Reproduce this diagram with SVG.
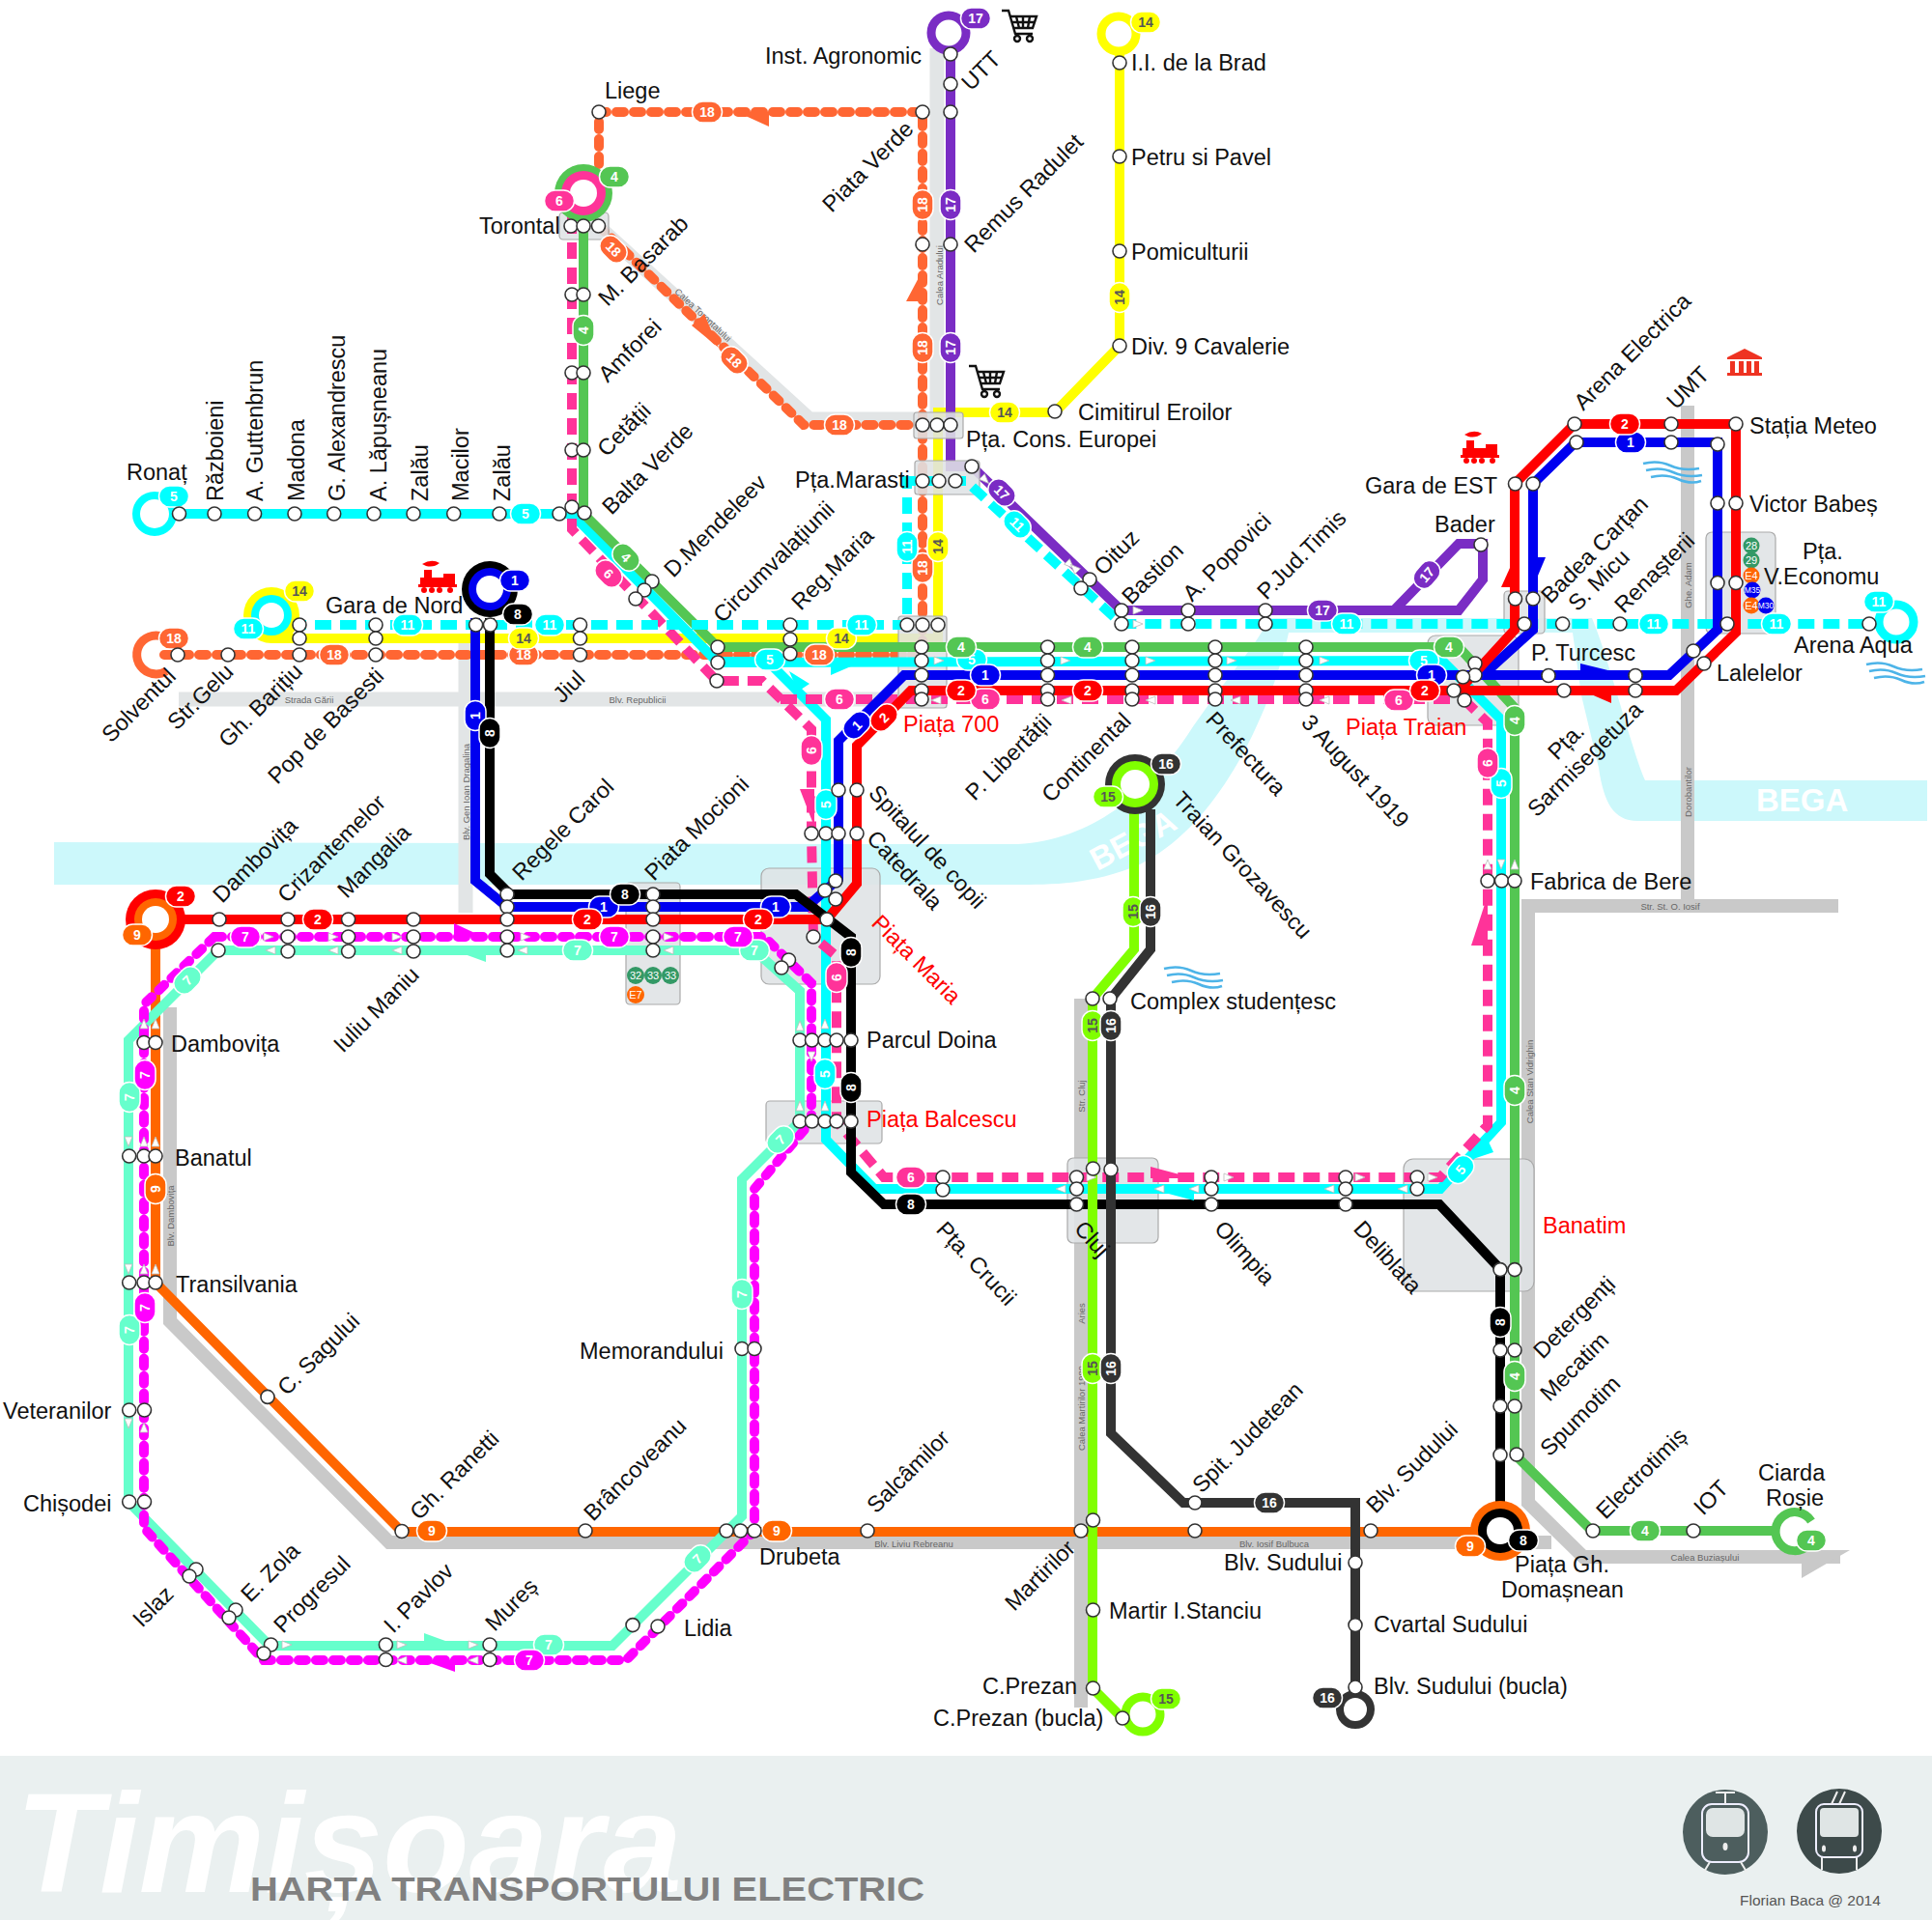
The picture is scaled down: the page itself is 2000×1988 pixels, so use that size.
<svg xmlns="http://www.w3.org/2000/svg" xmlns:xlink="http://www.w3.org/1999/xlink" width="2000" height="1988" viewBox="0 0 2000 1988">
<style>
text{font-family:"Liberation Sans",Arial,sans-serif}
.l{font-size:23.5px;fill:#111}
.r{font-size:23.5px;fill:#f00}
.rd{font-size:9.5px;fill:#666;text-anchor:middle;dominant-baseline:central}
.road{fill:none;stroke:#c9c9c9;stroke-width:14}
.roadl{fill:none;stroke:#e2e5e6;stroke-width:15}
.ln{fill:none;stroke-width:10;stroke-linejoin:miter}
.dash{stroke-dasharray:17 9}
.bead{stroke-dasharray:8 10;stroke-linecap:round}
.s{r:7px;fill:#fff;stroke:#333;stroke-width:1.6}
.b{x:-15.5px;y:-11px;width:31px;height:22px;rx:11px;stroke:#fff;stroke-width:1.5}
.bt{font-size:14px;font-weight:bold;fill:#fff;text-anchor:middle;dominant-baseline:central}
.dk{fill:#555}
.box{fill:#dfe3e5;fill-opacity:.88;stroke:#aaa;stroke-width:1.2}
.c1{fill:#0000f0}.c2{fill:#f00}.c4{fill:#54c653}.c5{fill:#0ff}.c6{fill:#f39}.c7{fill:#f0f}.c7m{fill:#6fc}.c8{fill:#000}.c9{fill:#f60}.c11{fill:#0ff}.c14{fill:#ff0}.c15{fill:#80ff00}.c16{fill:#333}.c17{fill:#7a2cc4}.c18{fill:#f63}
.s1{stroke:#0000f0}.s2{stroke:#f00}.s4{stroke:#54c653}.s5{stroke:#0ff}.s6{stroke:#f39}.s7{stroke:#f0f}.s7m{stroke:#6fc}.s8{stroke:#000}.s9{stroke:#f60}.s11{stroke:#0ff}.s14{stroke:#ff0}.s15{stroke:#80ff00}.s16{stroke:#333}.s17{stroke:#7a2cc4}.s18{stroke:#f63}
.tr{fill:#fff;stroke:#bbb;stroke-width:.8}
.stb{font-size:11px;fill:#fff;text-anchor:middle;dominant-baseline:central}
.stm{font-size:8.5px}
.wv{fill:none;stroke:#4db4e8;stroke-width:2.5}
</style>
<defs>
<path id="t" class="tr" d="M-5-4L5 0L-5 4Z"/>
<g id="train" fill="#f00"><rect x="6" y="10" width="8" height="8"/><path d="M4 4q10-6 18-1q-6 5-14 3z"/><rect x="2" y="18" width="26" height="9"/><rect x="26" y="14" width="12" height="13"/><rect x="0" y="25" width="40" height="3"/><circle cx="6" cy="31" r="3"/><circle cx="14" cy="31" r="3"/><circle cx="22" cy="31" r="3"/><circle cx="33" cy="31" r="3"/></g>
<g id="cart" fill="none" stroke="#111" stroke-width="2.4"><path d="M0 1H7L14 25H32"/><path d="M9 7H36L32 19H12" /><path d="M15 7L18 19M22 7V19M29 7L27 19M10 13H34"/><circle cx="16" cy="30" r="3"/><circle cx="29" cy="30" r="3"/></g>
<g id="mus" fill="#e32"><path d="M0 9L18 0L36 9V11H0Z"/><rect x="3" y="13" width="5" height="12"/><rect x="12" y="13" width="5" height="12"/><rect x="20" y="13" width="5" height="12"/><rect x="28" y="13" width="5" height="12"/><rect x="0" y="25" width="36" height="3"/></g>
<g id="wv" class="wv"><path d="M0 2q15-4 28 2t30 3"/><path d="M3 9q15-4 28 2t30 3"/><path d="M8 16q15-4 28 2t24 2"/></g>
</defs>
<rect width="2000" height="1988" fill="#fff"/>
<g id="river">
<path fill="#ccf8fb" d="M56 872L900 874L1054 874C1130 870 1190 820 1230 760C1270 700 1300 670 1314 640L1648 640C1665 680 1690 780 1703 808L1995 808L1995 850L1695 850C1670 850 1660 830 1655 795L1637 720L1628 655L1334 655C1320 720 1270 850 1180 895C1130 916 1090 916 1050 916L56 916Z"/>
<text x="1818" y="840" font-size="33" font-weight="bold" fill="#fff">BEGA</text>
<text transform="translate(1136 902) rotate(-28)" font-size="33" font-weight="bold" fill="#fff">BEGA</text>
</g>
<g id="roads">
<path class="roadl" d="M970 50V434H838L619 234"/>
<path class="roadl" d="M185 724H960"/>
<path class="roadl" d="M482 660V945"/>
<path class="road" d="M176 1043V1368L403 1597H1606"/>
<path class="road" d="M1903 938H1582V1556L1639 1612H1905"/>
<path d="M1915 1605L1865 1634V1618H1830V1605Z" fill="#c9c9c9"/>
<path class="road" d="M1747 420V938"/>
<path class="road" d="M1119 1034V1768"/>
<text class="rd" transform="translate(972 285) rotate(-90)">Calea Aradului</text>
<text class="rd" transform="translate(728 326) rotate(43)">Calea Torontalului</text>
<text class="rd" x="320" y="724">Strada Gării</text>
<text class="rd" x="660" y="724">Blv. Republicii</text>
<text class="rd" transform="translate(482 820) rotate(-90)">Blv. Gen Ioan Dragalina</text>
<text class="rd" transform="translate(1747 606) rotate(-90)">Ghe. Adam</text>
<text class="rd" transform="translate(1747 820) rotate(-90)">Dorobantilor</text>
<text class="rd" x="1729" y="938">Str. St. O. Iosif</text>
<text class="rd" transform="translate(1583 1120) rotate(-90)">Calea Stan Vidrighin</text>
<text class="rd" transform="translate(1119 1135) rotate(-90)">Str. Cluj</text>
<text class="rd" transform="translate(1119 1360) rotate(-90)">Aries</text>
<text class="rd" transform="translate(1119 1458) rotate(-90)">Calea Martirilor 1989</text>
<text class="rd" x="946" y="1598">Blv. Liviu Rebreanu</text>
<text class="rd" x="1319" y="1598">Blv. Iosif Bulbuca</text>
<text class="rd" x="1765" y="1612">Calea Buziașului</text>
<text class="rd" transform="translate(176 1259) rotate(-90)">Blv. Dambovița</text>
</g>
<g id="connectors-back">
<path class="ln s14" d="M281 661H971V427H1092L1159 358V45"/>
<path class="ln s18 bead" d="M170 678H955V116H620V180"/>
<path class="ln s18 bead" d="M620 234L832 440H955"/>
<path class="ln s17" d="M984 40V483H1006L1161 632H1510L1535 600V563H1510L1443 632"/>
</g>
<g id="boxes">
<rect class="box" x="579" y="220" width="51" height="28" rx="4"/>
<rect class="box" x="946" y="427" width="51" height="27" rx="3"/>
<rect class="box" x="947" y="477" width="67" height="35" rx="3"/>
<rect class="box" x="930" y="638" width="50" height="95" rx="3"/>
<rect class="box" x="1478" y="658" width="94" height="93" rx="8"/>
<rect class="box" x="1557" y="612" width="42" height="44" rx="4"/>
<rect class="box" x="1766" y="551" width="72" height="105" rx="6"/>
<rect class="box" x="648" y="914" width="56" height="126" rx="4"/>
<rect class="box" x="788" y="899" width="123" height="120" rx="8"/>
<rect class="box" x="793" y="1140" width="120" height="44" rx="4"/>
<rect class="box" x="1105" y="1199" width="94" height="88" rx="6"/>
<rect class="box" x="1453" y="1200" width="135" height="137" rx="10"/>
</g>
<g id="connectors">
<path class="ln s5" d="M178 532H592L743 686L1493 684L1554 745V1162L1491 1231H905L855 1180V745L795 685H743"/>
<path class="ln s4" d="M604 225V532L743 670H1510L1568 733V1506L1648 1585H1840"/>
<path class="ln s6 dash" d="M592 225V548L742 705H789L840 755V863L842 970L866 990V1161L915 1219H1491L1540 1165V748L1516 725"/>
<path class="ln s6 dash" d="M808 724H1516"/>
<path class="ln s11 dash" d="M300 647H939V498H1000L1161 646H1945"/>
<path class="ln s1" d="M492 640V912L525 939H835L868 910V767L936 699H1728L1778 652V458H1631L1587 501V652L1535 699"/>
<path class="ln s2" d="M175 952H856L887 915V772L943 715H1735L1797 655V439H1630L1568 501V652L1510 715"/>
<path class="ln s8" d="M507 640V905L528 926H824L881 970V1214L915 1247H1490L1553 1314V1570"/>
<path class="ln s9" d="M161 965V1328L416 1586H1530"/>
<path class="ln s7m" d="M781 984L828 1026V1161L768 1221V1570L634 1704H279L133 1555V1077L226 984Z"/>
<path class="ln s7 bead" d="M222 970H791L840 1018V1161L781 1231V1585L648 1719H273L149 1582V1040Z"/>
<path class="ln s15" d="M1174 838V983L1131 1034V1748L1162 1779"/>
<path class="ln s16" d="M1191 838V983L1150 1034V1484L1225 1556H1403V1755"/>
<g id="big-arrows">
<path class="c18" d="M763 116H796V131Z"/><path class="c18" d="M955 280L938 312H955Z"/><path class="c18" d="M744 360L716 337L729 325Z"/>
<path class="c5" d="M860 683H897L860 699Z"/><path class="c5" d="M817 695L838 708L826 716Z"/>
<path class="c6" d="M828 817H843V856Z"/>
<path class="c7" d="M470 956L500 970H470Z"/><path class="c7m" d="M470 984H503V996Z"/><path class="c7m" d="M439 1691L472 1703H439Z"/><path class="c7" d="M437 1719H471V1731Z"/>
<path class="c6" d="M1191 1208L1236 1220H1191Z"/><path class="c5" d="M1191 1231H1236V1243Z"/>
<path class="c5" d="M1525 1200L1546 1193L1540 1180Z"/>
<path class="c6" d="M1540 927L1523 979H1540Z"/>
<path class="c2" d="M1568 577L1554 608H1568Z"/><path class="c1" d="M1587 577H1600L1587 608Z"/>
<path class="c1" d="M1636 687L1689 700H1636Z"/><path class="c2" d="M1638 715H1668V728Z"/>
</g>
<g id="dir-marks">
<use href="#t" x="972" y="684"/><use href="#t" x="1103" y="684"/><use href="#t" x="1191" y="684"/><use href="#t" x="1275" y="684"/><use href="#t" x="1371" y="684"/>
<use href="#t" transform="translate(969 725) rotate(180)"/><use href="#t" transform="translate(1104 725) rotate(180)"/><use href="#t" transform="translate(1191 725) rotate(180)"/><use href="#t" transform="translate(1279 725) rotate(180)"/><use href="#t" transform="translate(1371 725) rotate(180)"/>
<use href="#t" transform="translate(280 984) rotate(180)"/><use href="#t" transform="translate(345 984) rotate(180)"/><use href="#t" transform="translate(411 984) rotate(180)"/><use href="#t" transform="translate(541 984) rotate(180)"/><use href="#t" transform="translate(692 984) rotate(180)"/>
<use href="#t" x="278" y="970"/><use href="#t" x="345" y="970"/><use href="#t" x="411" y="970"/><use href="#t" x="544" y="970"/><use href="#t" x="692" y="970"/>
<use href="#t" transform="translate(1200 1231) rotate(180)"/><use href="#t" transform="translate(1098 1231) rotate(180)"/><use href="#t" transform="translate(1236 1231) rotate(180)"/><use href="#t" transform="translate(1376 1231) rotate(180)"/><use href="#t" transform="translate(1452 1231) rotate(180)"/>
<use href="#t" x="1130" y="1219"/><use href="#t" x="1272" y="1219"/><use href="#t" x="1408" y="1219"/><use href="#t" x="1483" y="1219"/>
<use href="#t" transform="translate(149 1060) rotate(-90)"/><use href="#t" transform="translate(161 1060) rotate(-90)"/><use href="#t" transform="translate(149 1182) rotate(-90)"/><use href="#t" transform="translate(161 1182) rotate(-90)"/><use href="#t" transform="translate(149 1314) rotate(-90)"/><use href="#t" transform="translate(161 1314) rotate(-90)"/>
<use href="#t" transform="translate(133 1182) rotate(90)"/><use href="#t" transform="translate(133 1314) rotate(90)"/><use href="#t" transform="translate(133 1474) rotate(90)"/><use href="#t" transform="translate(149 1478) rotate(-90)"/>
<use href="#t" x="297" y="1703"/><use href="#t" x="416" y="1703"/><use href="#t" x="490" y="1703"/><use href="#t" transform="translate(416 1719) rotate(180)"/><use href="#t" transform="translate(490 1719) rotate(180)"/>
<use href="#t" transform="translate(828 1062) rotate(-90)"/><use href="#t" transform="translate(828 1145) rotate(-90)"/><use href="#t" transform="translate(840 1094) rotate(90)"/><use href="#t" transform="translate(854 1060) rotate(-90)"/><use href="#t" transform="translate(854 1145) rotate(-90)"/>
<use href="#t" transform="translate(1540 895) rotate(-90)"/><use href="#t" transform="translate(1554 895) rotate(90)"/><use href="#t" transform="translate(1568 895) rotate(-90)"/>
<use href="#t" x="1178" y="632"/><use href="#t" x="1178" y="646"/><use href="#t" transform="translate(1108 585) rotate(45)"/><use href="#t" transform="translate(1112 588) rotate(225)"/><use href="#t" transform="translate(1020 497) rotate(45)"/>
</g>
<g id="rings">
<circle cx="160" cy="532" r="19" fill="#fff" stroke="#0ff" stroke-width="8"/>
<path d="M172 695A20 20 0 1 1 175 663" fill="none" stroke="#f63" stroke-width="9"/>
<circle cx="281" cy="637" r="29" class="c14"/><circle cx="281" cy="637" r="21" class="c5"/><circle cx="281" cy="637" r="13" fill="#fff"/>
<circle cx="507" cy="610" r="29" class="c8"/><circle cx="507" cy="610" r="22" class="c1"/><circle cx="507" cy="610" r="14" fill="#fff"/>
<circle cx="604" cy="200" r="30" class="c4"/><circle cx="604" cy="200" r="23" class="c6"/><circle cx="604" cy="200" r="14" fill="#fff"/>
<circle cx="982" cy="34" r="18" fill="#fff" stroke="#7a2cc4" stroke-width="9"/>
<circle cx="1158" cy="35" r="18" fill="#fff" stroke="#ff0" stroke-width="9"/>
<circle cx="161" cy="952" r="31" class="c2"/><circle cx="161" cy="952" r="22" class="c9"/><circle cx="161" cy="952" r="14" fill="#fff"/>
<circle cx="1175" cy="812" r="31" class="c16"/><circle cx="1175" cy="812" r="24" class="c15"/><circle cx="1175" cy="812" r="15" fill="#fff"/>
<circle cx="1183" cy="1775" r="18" fill="#fff" stroke="#80ff00" stroke-width="9"/>
<circle cx="1403" cy="1770" r="16" fill="#fff" stroke="#333" stroke-width="8"/>
<circle cx="1553" cy="1585" r="31" class="c9"/><circle cx="1553" cy="1585" r="23" class="c8"/><circle cx="1553" cy="1585" r="14" fill="#fff"/>
<path d="M1875 1575A20 20 0 1 0 1872 1600" fill="#fff" stroke="#54c653" stroke-width="9"/>
<circle cx="1963" cy="644" r="18" fill="#fff" stroke="#0ff" stroke-width="9"/>
</g>
<g id="badges">
<g transform="translate(732 116)"><rect class="b c18"/><text class="bt">18</text></g>
<g transform="translate(955 212) rotate(-90)"><rect class="b c18"/><text class="bt">18</text></g>
<g transform="translate(955 360) rotate(-90)"><rect class="b c18"/><text class="bt">18</text></g>
<g transform="translate(955 588) rotate(-90)"><rect class="b c18"/><text class="bt">18</text></g>
<g transform="translate(635 258) rotate(45)"><rect class="b c18"/><text class="bt">18</text></g>
<g transform="translate(760 373) rotate(45)"><rect class="b c18"/><text class="bt">18</text></g>
<g transform="translate(869 440)"><rect class="b c18"/><text class="bt">18</text></g>
<g transform="translate(346 678)"><rect class="b c18"/><text class="bt">18</text></g>
<g transform="translate(542 678)"><rect class="b c18"/><text class="bt">18</text></g>
<g transform="translate(848 678)"><rect class="b c18"/><text class="bt">18</text></g>
<g transform="translate(180 661)"><rect class="b c18"/><text class="bt">18</text></g>
<g transform="translate(984 212) rotate(-90)"><rect class="b c17"/><text class="bt">17</text></g>
<g transform="translate(984 360) rotate(-90)"><rect class="b c17"/><text class="bt">17</text></g>
<g transform="translate(1037 510) rotate(45)"><rect class="b c17"/><text class="bt">17</text></g>
<g transform="translate(1369 632)"><rect class="b c17"/><text class="bt">17</text></g>
<g transform="translate(1477 595) rotate(-50)"><rect class="b c17"/><text class="bt">17</text></g>
<g transform="translate(1010 19)"><rect class="b c17"/><text class="bt">17</text></g>
<g transform="translate(1159 308) rotate(-90)"><rect class="b c14"/><text class="bt dk">14</text></g>
<g transform="translate(1040 427)"><rect class="b c14"/><text class="bt dk">14</text></g>
<g transform="translate(971 566) rotate(-90)"><rect class="b c14"/><text class="bt dk">14</text></g>
<g transform="translate(542 661)"><rect class="b c14"/><text class="bt dk">14</text></g>
<g transform="translate(871 661)"><rect class="b c14"/><text class="bt dk">14</text></g>
<g transform="translate(310 612)"><rect class="b c14"/><text class="bt dk">14</text></g>
<g transform="translate(1186 23)"><rect class="b c14"/><text class="bt dk">14</text></g>
<g transform="translate(422 647)"><rect class="b c11"/><text class="bt">11</text></g>
<g transform="translate(569 647)"><rect class="b c11"/><text class="bt">11</text></g>
<g transform="translate(892 647)"><rect class="b c11"/><text class="bt">11</text></g>
<g transform="translate(939 566) rotate(-90)"><rect class="b c11"/><text class="bt">11</text></g>
<g transform="translate(1053 543) rotate(45)"><rect class="b c11"/><text class="bt">11</text></g>
<g transform="translate(1394 646)"><rect class="b c11"/><text class="bt">11</text></g>
<g transform="translate(1712 646)"><rect class="b c11"/><text class="bt">11</text></g>
<g transform="translate(1839 646)"><rect class="b c11"/><text class="bt">11</text></g>
<g transform="translate(1945 623)"><rect class="b c11"/><text class="bt">11</text></g>
<g transform="translate(257 651)"><rect class="b c11"/><text class="bt">11</text></g>
<g transform="translate(180 514)"><rect class="b c5"/><text class="bt">5</text></g>
<g transform="translate(544 532)"><rect class="b c5"/><text class="bt">5</text></g>
<g transform="translate(797 683)"><rect class="b c5"/><text class="bt">5</text></g>
<g transform="translate(1006 683)"><rect class="b c5"/><text class="bt">5</text></g>
<g transform="translate(1474 684)"><rect class="b c5"/><text class="bt">5</text></g>
<g transform="translate(1554 811) rotate(-90)"><rect class="b c5"/><text class="bt">5</text></g>
<g transform="translate(855 833) rotate(-90)"><rect class="b c5"/><text class="bt">5</text></g>
<g transform="translate(854 1112) rotate(-90)"><rect class="b c5"/><text class="bt">5</text></g>
<g transform="translate(1512 1211) rotate(-50)"><rect class="b c5"/><text class="bt">5</text></g>
<g transform="translate(604 342) rotate(-90)"><rect class="b c4"/><text class="bt">4</text></g>
<g transform="translate(648 577) rotate(45)"><rect class="b c4"/><text class="bt">4</text></g>
<g transform="translate(995 670)"><rect class="b c4"/><text class="bt">4</text></g>
<g transform="translate(1126 670)"><rect class="b c4"/><text class="bt">4</text></g>
<g transform="translate(1500 670)"><rect class="b c4"/><text class="bt">4</text></g>
<g transform="translate(1568 746) rotate(-90)"><rect class="b c4"/><text class="bt">4</text></g>
<g transform="translate(1568 1129) rotate(-90)"><rect class="b c4"/><text class="bt">4</text></g>
<g transform="translate(1568 1425) rotate(-90)"><rect class="b c4"/><text class="bt">4</text></g>
<g transform="translate(1703 1585)"><rect class="b c4"/><text class="bt">4</text></g>
<g transform="translate(1875 1595)"><rect class="b c4"/><text class="bt">4</text></g>
<g transform="translate(636 183)"><rect class="b c4"/><text class="bt">4</text></g>
<g transform="translate(630 594) rotate(45)"><rect class="b c6"/><text class="bt">6</text></g>
<g transform="translate(840 777) rotate(-90)"><rect class="b c6"/><text class="bt">6</text></g>
<g transform="translate(869 724)"><rect class="b c6"/><text class="bt">6</text></g>
<g transform="translate(1020 724)"><rect class="b c6"/><text class="bt">6</text></g>
<g transform="translate(1448 725)"><rect class="b c6"/><text class="bt">6</text></g>
<g transform="translate(1540 790) rotate(-90)"><rect class="b c6"/><text class="bt">6</text></g>
<g transform="translate(866 1012) rotate(-90)"><rect class="b c6"/><text class="bt">6</text></g>
<g transform="translate(943 1219)"><rect class="b c6"/><text class="bt">6</text></g>
<g transform="translate(579 208)"><rect class="b c6"/><text class="bt">6</text></g>
<g transform="translate(492 741) rotate(-90)"><rect class="b c1"/><text class="bt">1</text></g>
<g transform="translate(625 939)"><rect class="b c1"/><text class="bt">1</text></g>
<g transform="translate(803 939)"><rect class="b c1"/><text class="bt">1</text></g>
<g transform="translate(887 751) rotate(-45)"><rect class="b c1"/><text class="bt">1</text></g>
<g transform="translate(1020 699)"><rect class="b c1"/><text class="bt">1</text></g>
<g transform="translate(1482 699)"><rect class="b c1"/><text class="bt">1</text></g>
<g transform="translate(1688 458)"><rect class="b c1"/><text class="bt">1</text></g>
<g transform="translate(533 601)"><rect class="b c1"/><text class="bt">1</text></g>
<g transform="translate(329 952)"><rect class="b c2"/><text class="bt">2</text></g>
<g transform="translate(608 952)"><rect class="b c2"/><text class="bt">2</text></g>
<g transform="translate(785 952)"><rect class="b c2"/><text class="bt">2</text></g>
<g transform="translate(915 743) rotate(-45)"><rect class="b c2"/><text class="bt">2</text></g>
<g transform="translate(995 715)"><rect class="b c2"/><text class="bt">2</text></g>
<g transform="translate(1126 715)"><rect class="b c2"/><text class="bt">2</text></g>
<g transform="translate(1475 715)"><rect class="b c2"/><text class="bt">2</text></g>
<g transform="translate(1682 439)"><rect class="b c2"/><text class="bt">2</text></g>
<g transform="translate(187 928)"><rect class="b c2"/><text class="bt">2</text></g>
<g transform="translate(507 759) rotate(-90)"><rect class="b c8"/><text class="bt">8</text></g>
<g transform="translate(647 926)"><rect class="b c8"/><text class="bt">8</text></g>
<g transform="translate(881 986) rotate(-90)"><rect class="b c8"/><text class="bt">8</text></g>
<g transform="translate(881 1126) rotate(-90)"><rect class="b c8"/><text class="bt">8</text></g>
<g transform="translate(943 1247)"><rect class="b c8"/><text class="bt">8</text></g>
<g transform="translate(1553 1369) rotate(-90)"><rect class="b c8"/><text class="bt">8</text></g>
<g transform="translate(536 636)"><rect class="b c8"/><text class="bt">8</text></g>
<g transform="translate(1577 1595)"><rect class="b c8"/><text class="bt">8</text></g>
<g transform="translate(161 1231) rotate(-90)"><rect class="b c9"/><text class="bt">9</text></g>
<g transform="translate(447 1585)"><rect class="b c9"/><text class="bt">9</text></g>
<g transform="translate(804 1585)"><rect class="b c9"/><text class="bt">9</text></g>
<g transform="translate(142 968)"><rect class="b c9"/><text class="bt">9</text></g>
<g transform="translate(1522 1601)"><rect class="b c9"/><text class="bt">9</text></g>
<g transform="translate(194 1015) rotate(-45)"><rect class="b c7m"/><text class="bt">7</text></g>
<g transform="translate(598 984)"><rect class="b c7m"/><text class="bt">7</text></g>
<g transform="translate(781 984)"><rect class="b c7m"/><text class="bt">7</text></g>
<g transform="translate(134 1136) rotate(-90)"><rect class="b c7m"/><text class="bt">7</text></g>
<g transform="translate(134 1377) rotate(-90)"><rect class="b c7m"/><text class="bt">7</text></g>
<g transform="translate(768 1340) rotate(-90)"><rect class="b c7m"/><text class="bt">7</text></g>
<g transform="translate(808 1180) rotate(-45)"><rect class="b c7m"/><text class="bt">7</text></g>
<g transform="translate(722 1614) rotate(-45)"><rect class="b c7m"/><text class="bt">7</text></g>
<g transform="translate(568 1703)"><rect class="b c7m"/><text class="bt">7</text></g>
<g transform="translate(254 970)"><rect class="b c7"/><text class="bt">7</text></g>
<g transform="translate(636 970)"><rect class="b c7"/><text class="bt">7</text></g>
<g transform="translate(764 970)"><rect class="b c7"/><text class="bt">7</text></g>
<g transform="translate(150 1113) rotate(-90)"><rect class="b c7"/><text class="bt">7</text></g>
<g transform="translate(150 1354) rotate(-90)"><rect class="b c7"/><text class="bt">7</text></g>
<g transform="translate(548 1719)"><rect class="b c7"/><text class="bt">7</text></g>
<g transform="translate(1173 944) rotate(-90)"><rect class="b c15"/><text class="bt dk">15</text></g>
<g transform="translate(1131 1062) rotate(-90)"><rect class="b c15"/><text class="bt dk">15</text></g>
<g transform="translate(1131 1417) rotate(-90)"><rect class="b c15"/><text class="bt dk">15</text></g>
<g transform="translate(1147 825)"><rect class="b c15"/><text class="bt dk">15</text></g>
<g transform="translate(1207 1759)"><rect class="b c15"/><text class="bt dk">15</text></g>
<g transform="translate(1191 944) rotate(-90)"><rect class="b c16"/><text class="bt">16</text></g>
<g transform="translate(1150 1062) rotate(-90)"><rect class="b c16"/><text class="bt">16</text></g>
<g transform="translate(1150 1417) rotate(-90)"><rect class="b c16"/><text class="bt">16</text></g>
<g transform="translate(1314 1556)"><rect class="b c16"/><text class="bt">16</text></g>
<g transform="translate(1207 791)"><rect class="b c16"/><text class="bt">16</text></g>
<g transform="translate(1374 1758)"><rect class="b c16"/><text class="bt">16</text></g>
</g>
</g>
<g id="stop-badges">
<circle cx="658" cy="1010" r="9" fill="#396"/><text class="stb" x="658" y="1010">32</text>
<circle cx="676" cy="1010" r="9" fill="#396"/><text class="stb" x="676" y="1010">33</text>
<circle cx="694" cy="1010" r="9" fill="#396"/><text class="stb" x="694" y="1010">33</text>
<circle cx="658" cy="1030" r="9" fill="#f60"/><text class="stb" x="658" y="1030">E7</text>
<circle cx="1813" cy="565" r="8.5" fill="#396"/><text class="stb" x="1813" y="565">28</text>
<circle cx="1813" cy="580" r="8.5" fill="#396"/><text class="stb" x="1813" y="580">29</text>
<circle cx="1813" cy="596" r="8.5" fill="#f60"/><text class="stb" x="1813" y="596">E4</text>
<circle cx="1814" cy="611" r="8.5" fill="#0000f0"/><text class="stb stm" x="1814" y="611">M35</text>
<circle cx="1813" cy="627" r="8.5" fill="#f60"/><text class="stb" x="1813" y="627">E4</text>
<circle cx="1828" cy="627" r="8.5" fill="#0000f0"/><text class="stb stm" x="1828" y="627">M30</text>
</g>
<g id="icons">
<use href="#train" x="433" y="580"/><use href="#train" x="1512" y="446"/>
<use href="#cart" x="1037" y="10"/><use href="#cart" x="1003" y="378"/>
<use href="#mus" x="1788" y="361"/>
<use href="#wv" x="1701" y="478"/><use href="#wv" x="1205" y="1001"/><use href="#wv" x="1932" y="686"/>
</g>
<g id="n-ronat"><circle class="s" cx="185.5" cy="532"/><text class="l" x="131" y="497">Ronaț</text></g>
<g id="n-razboieni"><circle class="s" cx="222" cy="532"/><text class="l" transform="translate(231 519) rotate(-90)">Războieni</text></g>
<g id="n-guttenbrun"><circle class="s" cx="263.6" cy="532"/><text class="l" transform="translate(272 519) rotate(-90)">A. Guttenbrun</text></g>
<g id="n-madona"><circle class="s" cx="305" cy="532"/><text class="l" transform="translate(315 519) rotate(-90)">Madona</text></g>
<g id="n-alexandrescu"><circle class="s" cx="345.7" cy="532"/><text class="l" transform="translate(357 519) rotate(-90)">G. Alexandrescu</text></g>
<g id="n-lapusneanu"><circle class="s" cx="387" cy="532"/><text class="l" transform="translate(400 519) rotate(-90)">A. Lăpușneanu</text></g>
<g id="n-zalau1"><circle class="s" cx="428" cy="532"/><text class="l" transform="translate(443 519) rotate(-90)">Zalău</text></g>
<g id="n-macilor"><circle class="s" cx="469.7" cy="532"/><text class="l" transform="translate(485 519) rotate(-90)">Macilor</text></g>
<g id="n-zalau2"><circle class="s" cx="517" cy="532"/><text class="l" transform="translate(528 519) rotate(-90)">Zalău</text></g>
<g id="n-liege"><circle class="s" cx="620" cy="116"/><text class="l" x="626" y="102">Liege</text></g>
<g id="n-torontal"><circle class="s" cx="591" cy="234"/><circle class="s" cx="604" cy="234"/><circle class="s" cx="619.5" cy="234"/><text class="l" x="496" y="242">Torontal</text></g>
<g id="n-basarab"><circle class="s" cx="592" cy="305"/><circle class="s" cx="604" cy="305"/><text class="l" transform="translate(629 318) rotate(-45)">M. Basarab</text></g>
<g id="n-amforei"><circle class="s" cx="592" cy="386"/><circle class="s" cx="604" cy="386"/><text class="l" transform="translate(629 397) rotate(-45)">Amforei</text></g>
<g id="n-cetatii"><circle class="s" cx="592" cy="466"/><circle class="s" cx="604" cy="466"/><text class="l" transform="translate(628 474) rotate(-45)">Cetății</text></g>
<g id="n-balta"><circle class="s" cx="579" cy="532"/><circle class="s" cx="592" cy="525"/><circle class="s" cx="605" cy="531"/><text class="l" transform="translate(633 534) rotate(-45)">Balta Verde</text></g>
<g id="n-mendeleev"><circle class="s" cx="675" cy="602"/><circle class="s" cx="667" cy="611"/><circle class="s" cx="658" cy="620"/><text class="l" transform="translate(697 599) rotate(-45)">D.Mendeleev</text></g>
<g id="n-circum"><circle class="s" cx="743" cy="670"/><circle class="s" cx="743" cy="686"/><circle class="s" cx="742" cy="705"/><text class="l" transform="translate(748 646) rotate(-45)">Circumvalațiunii</text></g>
<g id="n-regmaria"><circle class="s" cx="818" cy="647"/><circle class="s" cx="818" cy="662"/><circle class="s" cx="818" cy="677"/><text class="l" transform="translate(829 633) rotate(-45)">Reg.Maria</text></g>
<g id="n-piataverde"><circle class="s" cx="955" cy="116"/><circle class="s" cx="955" cy="253"/><text class="l" transform="translate(861 221) rotate(-45)">Piata Verde</text></g>
<g id="n-agronomic"><circle class="s" cx="984" cy="56"/><text class="l" x="792" y="66">Inst. Agronomic</text></g>
<g id="n-utt"><circle class="s" cx="984" cy="87"/><text class="l" transform="translate(1005 95) rotate(-45)">UTT</text></g>
<g id="n-remus"><circle class="s" cx="984" cy="116"/><circle class="s" cx="984" cy="253"/><text class="l" transform="translate(1008 263) rotate(-45)">Remus Radulet</text></g>
<g id="n-brad"><circle class="s" cx="1159" cy="65"/><text class="l" x="1171" y="73">I.I. de la Brad</text></g>
<g id="n-petru"><circle class="s" cx="1159" cy="162"/><text class="l" x="1171" y="171">Petru si Pavel</text></g>
<g id="n-pomi"><circle class="s" cx="1159" cy="260"/><text class="l" x="1171" y="269">Pomiculturii</text></g>
<g id="n-div9"><circle class="s" cx="1159" cy="358"/><text class="l" x="1171" y="367">Div. 9 Cavalerie</text></g>
<g id="n-cimitir"><circle class="s" cx="1092" cy="426"/><text class="l" x="1116" y="435">Cimitirul Eroilor</text></g>
<g id="n-cons"><circle class="s" cx="955" cy="440"/><circle class="s" cx="970" cy="440"/><circle class="s" cx="984" cy="440"/><text class="l" x="1000" y="463">Pța. Cons. Europei</text></g>
<g id="n-marasti"><circle class="s" cx="955" cy="498"/><circle class="s" cx="972" cy="498"/><circle class="s" cx="989" cy="498"/><circle class="s" cx="1006" cy="483"/><text class="l" x="823" y="505">Pța.Marasti</text></g>
<g id="n-gnord"><circle class="s" cx="310" cy="647"/><circle class="s" cx="310" cy="661"/><circle class="s" cx="310" cy="678"/><circle class="s" cx="492.6" cy="647"/><circle class="s" cx="507.5" cy="647"/><text class="l" x="337" y="635">Gara de Nord</text></g>
<g id="n-solventul"><circle class="s" cx="184" cy="678"/><text class="l" transform="translate(115 770) rotate(-45)">Solventul</text></g>
<g id="n-gelu"><circle class="s" cx="236" cy="678"/><text class="l" transform="translate(183 757) rotate(-45)">Str.Gelu</text></g>
<g id="n-baritiu"><text class="l" transform="translate(236 775) rotate(-45)">Gh. Barițiu</text></g>
<g id="n-basesti"><circle class="s" cx="389" cy="647"/><circle class="s" cx="389" cy="661"/><circle class="s" cx="389" cy="678"/><text class="l" transform="translate(287 813) rotate(-45)">Pop de Basesti</text></g>
<g id="n-jiul"><circle class="s" cx="600.5" cy="647"/><circle class="s" cx="600.5" cy="661"/><circle class="s" cx="600.5" cy="678"/><text class="l" transform="translate(582 729) rotate(-45)">Jiul</text></g>
<g id="n-p700"><circle class="s" cx="939" cy="647"/><circle class="s" cx="955" cy="647"/><circle class="s" cx="971" cy="647"/><circle class="s" cx="954" cy="670"/><circle class="s" cx="954" cy="684"/><circle class="s" cx="954" cy="699"/><circle class="s" cx="954" cy="715"/><circle class="s" cx="954" cy="724"/><text class="r" x="935" y="758">Piața 700</text></g>
<g id="n-libertatii"><circle class="s" cx="1084.5" cy="670"/><circle class="s" cx="1084.5" cy="684"/><circle class="s" cx="1084.5" cy="699"/><circle class="s" cx="1084.5" cy="715"/><circle class="s" cx="1084.5" cy="724"/><text class="l" transform="translate(1009 830) rotate(-45)">P. Libertății</text></g>
<g id="n-continental"><circle class="s" cx="1172" cy="670"/><circle class="s" cx="1172" cy="684"/><circle class="s" cx="1172" cy="699"/><circle class="s" cx="1172" cy="715"/><circle class="s" cx="1172" cy="724"/><text class="l" transform="translate(1088 832) rotate(-45)">Continental</text></g>
<g id="n-prefectura"><circle class="s" cx="1258" cy="670"/><circle class="s" cx="1258" cy="684"/><circle class="s" cx="1258" cy="699"/><circle class="s" cx="1258" cy="715"/><circle class="s" cx="1258" cy="724"/><text class="l" transform="translate(1247 746) rotate(47)">Prefectura</text></g>
<g id="n-3aug"><circle class="s" cx="1352" cy="670"/><circle class="s" cx="1352" cy="684"/><circle class="s" cx="1352" cy="699"/><circle class="s" cx="1352" cy="715"/><circle class="s" cx="1352" cy="724"/><text class="l" transform="translate(1346 749) rotate(47)">3 August 1919</text></g>
<g id="n-traian"><circle class="s" cx="1527" cy="687"/><circle class="s" cx="1527" cy="699"/><circle class="s" cx="1514.5" cy="701"/><circle class="s" cx="1505" cy="715"/><circle class="s" cx="1516" cy="725"/><text class="r" x="1393" y="761">Piața Traian</text></g>
<g id="n-oituz"><circle class="s" cx="1128" cy="600"/><circle class="s" cx="1119" cy="609"/><text class="l" transform="translate(1142 597) rotate(-45)">Oituz</text></g>
<g id="n-bastion"><circle class="s" cx="1161" cy="632"/><circle class="s" cx="1161" cy="646"/><text class="l" transform="translate(1171 627) rotate(-45)">Bastion</text></g>
<g id="n-popovici"><circle class="s" cx="1230" cy="632"/><circle class="s" cx="1230" cy="646"/><text class="l" transform="translate(1234 624) rotate(-45)">A. Popovici</text></g>
<g id="n-timis"><circle class="s" cx="1310" cy="632"/><circle class="s" cx="1310" cy="646"/><text class="l" transform="translate(1311 622) rotate(-45)">P.Jud.Timis</text></g>
<g id="n-bader"><circle class="s" cx="1533" cy="564"/><text class="l" x="1485" y="551">Bader</text></g>
<g id="n-gest"><circle class="s" cx="1568.5" cy="501"/><circle class="s" cx="1587" cy="501"/><text class="l" x="1413" y="511">Gara de EST</text></g>
<g id="n-electrica"><circle class="s" cx="1630" cy="439"/><circle class="s" cx="1632" cy="458"/><text class="l" transform="translate(1639 426) rotate(-45)">Arena Electrica</text></g>
<g id="n-umt"><circle class="s" cx="1730" cy="439"/><circle class="s" cx="1730" cy="458"/><text class="l" transform="translate(1735 425) rotate(-45)">UMT</text></g>
<g id="n-meteo"><circle class="s" cx="1797" cy="439"/><circle class="s" cx="1778" cy="460"/><text class="l" x="1811" y="449">Stația Meteo</text></g>
<g id="n-babes"><circle class="s" cx="1778" cy="521"/><circle class="s" cx="1797" cy="521"/><text class="l" x="1811" y="530">Victor Babeș</text></g>
<g id="n-economu"><circle class="s" cx="1778" cy="603.5"/><circle class="s" cx="1797" cy="603.5"/><circle class="s" cx="1788" cy="646"/><text class="l" x="1866" y="579">Pța.</text><text class="l" x="1826" y="605">V.Economu</text></g>
<g id="n-cartan"><circle class="s" cx="1568.5" cy="620"/><circle class="s" cx="1587" cy="620"/><text class="l" transform="translate(1605 626) rotate(-45)">Badea Carțan</text></g>
<g id="n-micu"><circle class="s" cx="1578" cy="646"/><text class="l" transform="translate(1633 634) rotate(-45)">S. Micu</text></g>
<g id="n-renasterii"><circle class="s" cx="1617.6" cy="646"/><circle class="s" cx="1677" cy="646"/><text class="l" transform="translate(1681 636) rotate(-45)">Renașterii</text></g>
<g id="n-aqua"><circle class="s" cx="1935" cy="646"/><text class="l" x="1857" y="676">Arena Aqua</text></g>
<g id="n-lalelelor"><circle class="s" cx="1753" cy="674"/><circle class="s" cx="1764" cy="687"/><text class="l" x="1777" y="705">Lalelelor</text></g>
<g id="n-turcesc"><circle class="s" cx="1603" cy="699.5"/><circle class="s" cx="1619" cy="715"/><text class="l" x="1585" y="684">P. Turcesc</text></g>
<g id="n-sarmis"><circle class="s" cx="1693" cy="699.5"/><circle class="s" cx="1693" cy="715"/><text class="l" transform="translate(1612 788) rotate(-45)">Pța.</text><text class="l" transform="translate(1591 847) rotate(-45)">Sarmisegetuza</text></g>
<g id="n-bere"><circle class="s" cx="1540" cy="912"/><circle class="s" cx="1554.5" cy="912"/><circle class="s" cx="1568" cy="912"/><text class="l" x="1584" y="921">Fabrica de Bere</text></g>
<g id="n-spital"><circle class="s" cx="868" cy="818"/><circle class="s" cx="887" cy="818"/><text class="l" transform="translate(898 822) rotate(47)">Spitalul de copii</text></g>
<g id="n-catedrala"><circle class="s" cx="840" cy="863"/><circle class="s" cx="855" cy="863"/><circle class="s" cx="868" cy="863"/><circle class="s" cx="887" cy="863"/><text class="l" transform="translate(896 869) rotate(47)">Catedrala</text></g>
<g id="n-pmaria"><circle class="s" cx="854" cy="922"/><circle class="s" cx="865" cy="912"/><circle class="s" cx="865" cy="931"/><circle class="s" cx="856" cy="952"/><circle class="s" cx="842" cy="970"/><circle class="s" cx="816.5" cy="994"/><circle class="s" cx="809" cy="1002"/><text class="r" transform="translate(901 957) rotate(45)">Piața Maria</text></g>
<g id="n-doina"><circle class="s" cx="828" cy="1077"/><circle class="s" cx="840.5" cy="1077"/><circle class="s" cx="854" cy="1077"/><circle class="s" cx="866" cy="1077"/><circle class="s" cx="881" cy="1077"/><text class="l" x="897" y="1085">Parcul Doina</text></g>
<g id="n-balcescu"><circle class="s" cx="828" cy="1161"/><circle class="s" cx="840.5" cy="1161"/><circle class="s" cx="854" cy="1161"/><circle class="s" cx="866" cy="1161"/><circle class="s" cx="881" cy="1161"/><text class="r" x="897" y="1167">Piața Balcescu</text></g>
<g id="n-crucii"><circle class="s" cx="976" cy="1219"/><circle class="s" cx="976" cy="1232"/><text class="l" transform="translate(968 1274) rotate(47)">Pța. Crucii</text></g>
<g id="n-cluj"><circle class="s" cx="1114.5" cy="1219"/><circle class="s" cx="1114.5" cy="1231"/><circle class="s" cx="1114.5" cy="1247"/><circle class="s" cx="1131.5" cy="1210"/><circle class="s" cx="1150" cy="1211"/><text class="l" transform="translate(1111 1273) rotate(48)">Cluj</text></g>
<g id="n-olimpia"><circle class="s" cx="1254" cy="1219"/><circle class="s" cx="1254" cy="1231"/><circle class="s" cx="1254" cy="1247"/><text class="l" transform="translate(1256 1273) rotate(48)">Olimpia</text></g>
<g id="n-deliblata"><circle class="s" cx="1393" cy="1219"/><circle class="s" cx="1393" cy="1231"/><circle class="s" cx="1393" cy="1247"/><text class="l" transform="translate(1400 1273) rotate(48)">Deliblata</text></g>
<g id="n-banatim"><circle class="s" cx="1467" cy="1219"/><circle class="s" cx="1467" cy="1231"/><circle class="s" cx="1553" cy="1314.6"/><circle class="s" cx="1568" cy="1314.6"/><text class="r" x="1597" y="1277">Banatim</text></g>
<g id="n-grozavescu"><text class="l" transform="translate(1213 829) rotate(47)">Traian Grozavescu</text></g>
<g id="n-complex"><circle class="s" cx="1131" cy="1034"/><circle class="s" cx="1149" cy="1034"/><text class="l" x="1170" y="1045">Complex studențesc</text></g>
<g id="n-dambovita1"><circle class="s" cx="227" cy="952"/><circle class="s" cx="226" cy="984"/><text class="l" transform="translate(230 936) rotate(-45)">Dambovița</text></g>
<g id="n-crizantemelor"><circle class="s" cx="298" cy="952"/><circle class="s" cx="298" cy="970"/><circle class="s" cx="298" cy="985"/><text class="l" transform="translate(297 936) rotate(-45)">Crizantemelor</text></g>
<g id="n-mangalia"><circle class="s" cx="360.6" cy="952"/><circle class="s" cx="360.6" cy="970"/><circle class="s" cx="360.6" cy="985"/><text class="l" transform="translate(359 931) rotate(-45)">Mangalia</text></g>
<g id="n-maniu"><circle class="s" cx="428" cy="952"/><circle class="s" cx="428" cy="970"/><circle class="s" cx="428" cy="985"/><text class="l" transform="translate(355 1091) rotate(-45)">Iuliu Maniu</text></g>
<g id="n-carol"><circle class="s" cx="525" cy="926"/><circle class="s" cx="525" cy="939"/><circle class="s" cx="525" cy="952"/><circle class="s" cx="525" cy="970"/><circle class="s" cx="525" cy="984"/><text class="l" transform="translate(540 913) rotate(-45)">Regele Carol</text></g>
<g id="n-mocioni"><circle class="s" cx="676" cy="926"/><circle class="s" cx="676" cy="939"/><circle class="s" cx="676" cy="952"/><circle class="s" cx="676" cy="970"/><circle class="s" cx="676" cy="984"/><text class="l" transform="translate(677 913) rotate(-45)">Piata Mocioni</text></g>
<g id="n-dambovita2"><circle class="s" cx="149" cy="1079.5"/><circle class="s" cx="161" cy="1079.5"/><text class="l" x="177" y="1089">Dambovița</text></g>
<g id="n-banatul"><circle class="s" cx="133.7" cy="1197"/><circle class="s" cx="149" cy="1197"/><circle class="s" cx="161" cy="1197"/><text class="l" x="181" y="1207">Banatul</text></g>
<g id="n-transilvania"><circle class="s" cx="133.7" cy="1328"/><circle class="s" cx="149" cy="1328"/><circle class="s" cx="161" cy="1328"/><text class="l" x="182" y="1338">Transilvania</text></g>
<g id="n-sagului"><circle class="s" cx="277" cy="1446.4"/><text class="l" transform="translate(297 1446) rotate(-45)">C. Sagului</text></g>
<g id="n-veteranilor"><circle class="s" cx="133.7" cy="1460"/><circle class="s" cx="149.5" cy="1460"/><text class="l" x="3" y="1469">Veteranilor</text></g>
<g id="n-chisodei"><circle class="s" cx="133.7" cy="1555"/><circle class="s" cx="149.5" cy="1555"/><text class="l" x="24" y="1565">Chișodei</text></g>
<g id="n-islaz"><circle class="s" cx="203" cy="1625"/><circle class="s" cx="196" cy="1632"/><text class="l" transform="translate(147 1686) rotate(-45)">Islaz</text></g>
<g id="n-zola"><circle class="s" cx="244" cy="1667"/><circle class="s" cx="237" cy="1675"/><text class="l" transform="translate(259 1660) rotate(-45)">E. Zola</text></g>
<g id="n-progresul"><circle class="s" cx="280.5" cy="1703"/><circle class="s" cx="273" cy="1712"/><text class="l" transform="translate(293 1692) rotate(-45)">Progresul</text></g>
<g id="n-pavlov"><circle class="s" cx="399.4" cy="1703"/><circle class="s" cx="399.4" cy="1718.5"/><text class="l" transform="translate(407 1692) rotate(-45)">I. Pavlov</text></g>
<g id="n-mures"><circle class="s" cx="507" cy="1703"/><circle class="s" cx="507" cy="1718.5"/><text class="l" transform="translate(512 1690) rotate(-45)">Mureș</text></g>
<g id="n-lidia"><circle class="s" cx="655" cy="1682.6"/><circle class="s" cx="681" cy="1684"/><text class="l" x="708" y="1694">Lidia</text></g>
<g id="n-memor"><circle class="s" cx="768" cy="1396.5"/><circle class="s" cx="781" cy="1396.5"/><text class="l" x="600" y="1407">Memorandului</text></g>
<g id="n-drubeta"><circle class="s" cx="752" cy="1585"/><circle class="s" cx="766.6" cy="1585"/><circle class="s" cx="781" cy="1585"/><text class="l" x="786" y="1620">Drubeta</text></g>
<g id="n-ranetti"><circle class="s" cx="416" cy="1585.5"/><text class="l" transform="translate(434 1575) rotate(-45)">Gh. Ranetti</text></g>
<g id="n-brancoveanu"><circle class="s" cx="606" cy="1585"/><text class="l" transform="translate(614 1576) rotate(-45)">Brâncoveanu</text></g>
<g id="n-salcamilor"><circle class="s" cx="898" cy="1585"/><text class="l" transform="translate(907 1568) rotate(-45)">Salcâmilor</text></g>
<g id="n-martirilor"><circle class="s" cx="1119" cy="1585"/><circle class="s" cx="1131.5" cy="1574"/><text class="l" transform="translate(1050 1669) rotate(-45)">Martirilor</text></g>
<g id="n-judetean"><circle class="s" cx="1237" cy="1556"/><circle class="s" cx="1237" cy="1585"/><text class="l" transform="translate(1244 1547) rotate(-45)">Spit. Judetean</text></g>
<g id="n-sudului1"><circle class="s" cx="1419" cy="1585"/><text class="l" transform="translate(1424 1568) rotate(-45)">Blv. Sudului</text></g>
<g id="n-sudului2"><circle class="s" cx="1403" cy="1618"/><text class="l" x="1267" y="1626">Blv. Sudului</text></g>
<g id="n-cvartal"><circle class="s" cx="1403" cy="1682.6"/><text class="l" x="1422" y="1690">Cvartal Sudului</text></g>
<g id="n-bucla"><circle class="s" cx="1403" cy="1747"/><text class="l" x="1422" y="1754">Blv. Sudului (bucla)</text></g>
<g id="n-stanciu"><circle class="s" cx="1131.5" cy="1667"/><text class="l" x="1148" y="1676">Martir I.Stanciu</text></g>
<g id="n-prezan"><circle class="s" cx="1131.5" cy="1748"/><text class="l" x="1017" y="1754">C.Prezan</text></g>
<g id="n-prezanb"><circle class="s" cx="1162" cy="1779"/><text class="l" x="966" y="1787">C.Prezan (bucla)</text></g>
<g id="n-detergenti"><circle class="s" cx="1553" cy="1398"/><circle class="s" cx="1568" cy="1398"/><text class="l" transform="translate(1597 1408) rotate(-45)">Detergenți</text></g>
<g id="n-mecatim"><circle class="s" cx="1553" cy="1456"/><circle class="s" cx="1568" cy="1456"/><text class="l" transform="translate(1604 1452) rotate(-45)">Mecatim</text></g>
<g id="n-spumotim"><circle class="s" cx="1553" cy="1506.5"/><circle class="s" cx="1570" cy="1506"/><text class="l" transform="translate(1604 1509) rotate(-45)">Spumotim</text></g>
<g id="n-electrotimis"><circle class="s" cx="1649" cy="1585"/><text class="l" transform="translate(1662 1574) rotate(-45)">Electrotimiș</text></g>
<g id="n-iot"><circle class="s" cx="1753" cy="1585"/><text class="l" transform="translate(1763 1570) rotate(-45)">IOT</text></g>
<g id="n-ciarda"><text class="l" x="1820" y="1533">Ciarda</text><text class="l" x="1828" y="1559">Roșie</text></g>
<g id="n-domasnean"><text class="l" x="1568" y="1628">Piața Gh.</text><text class="l" x="1554" y="1654">Domașnean</text></g>
<g id="footer">
<rect x="0" y="1818" width="2000" height="170" fill="#eaf0f0"/>
<text x="16" y="1959" font-size="146" font-weight="bold" font-style="italic" fill="#fff" textLength="690" lengthAdjust="spacingAndGlyphs">Timișoara</text>
<text x="259" y="1968" font-size="35" font-weight="bold" fill="#808080" textLength="698" lengthAdjust="spacingAndGlyphs">HARTA TRANSPORTULUI ELECTRIC</text>
<text x="1801" y="1973" font-size="15.5" fill="#555">Florian Baca @ 2014</text>
<g id="tram"><circle cx="1786" cy="1897" r="44" fill="#4d5e5e"/><rect x="1762" y="1868" width="48" height="60" rx="10" fill="none" stroke="#eef" stroke-width="2"/><rect x="1766" y="1872" width="40" height="30" rx="7" fill="#dfe5e5"/><ellipse cx="1786" cy="1912" rx="2.5" ry="4" fill="#eee"/><path d="M1776 1856H1796M1786 1856V1868M1770 1928L1764 1938M1802 1928L1808 1938" stroke="#eee" stroke-width="2"/></g>
<g id="trolley"><circle cx="1904" cy="1896" r="44" fill="#3d4a4a"/><rect x="1880" y="1868" width="48" height="55" rx="8" fill="none" stroke="#eef" stroke-width="2"/><rect x="1884" y="1872" width="40" height="30" rx="4" fill="#dfe5e5"/><ellipse cx="1888" cy="1914" rx="2" ry="3.5" fill="#eee"/><ellipse cx="1920" cy="1914" rx="2" ry="3.5" fill="#eee"/><path d="M1896 1868L1902 1855M1904 1868L1910 1855M1886 1923V1936M1922 1923V1936" stroke="#eee" stroke-width="2"/></g>
</g>
</svg>
